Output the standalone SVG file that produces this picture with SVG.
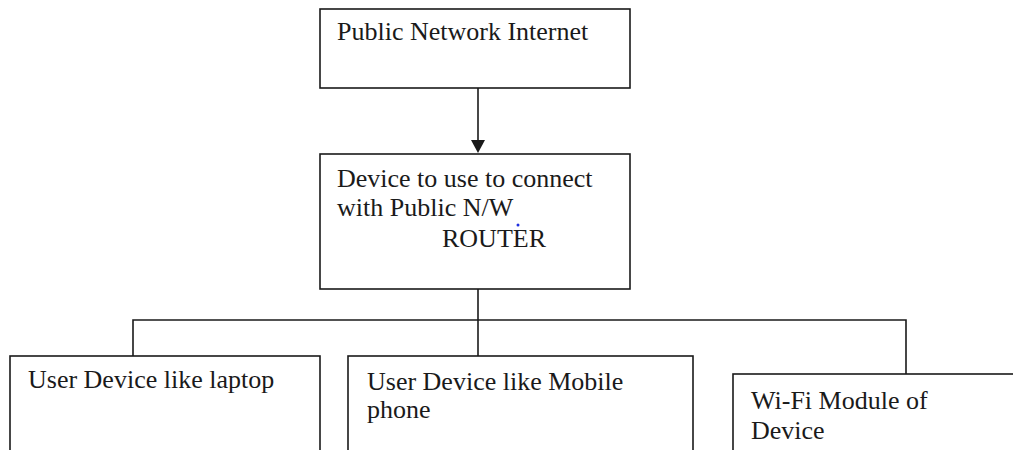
<svg xmlns="http://www.w3.org/2000/svg" width="1013" height="450" viewBox="0 0 1013 450">
  <defs>
    <style>
      .box { fill: #ffffff; stroke: #1a1a1a; stroke-width: 1.6; }
      .wire { fill: none; stroke: #1a1a1a; stroke-width: 1.6; }
      .arrowhead { fill: #1a1a1a; }
      text { font-family: 'Liberation Serif', 'DejaVu Serif', serif; font-size: 26px; fill: #1a1a1a; }
    </style>
  </defs>
  <rect width="1013" height="450" fill="#ffffff"/>

  <!-- connectors -->
  <g id="connectors">
    <line class="wire" x1="478" y1="88" x2="478" y2="140"/>
    <polygon class="arrowhead" points="471,140 485,140 478,153"/>
    <line class="wire" x1="478" y1="289" x2="478" y2="356"/>
    <polyline class="wire" points="133,356 133,320 906,320 906,374"/>
  </g>

  <!-- public network -->
  <g id="internet">
    <rect class="box" x="320" y="9" width="310" height="79"/>
    <text x="337" y="40">Public Network Internet</text>
  </g>

  <!-- router -->
  <g id="router">
    <rect class="box" x="320" y="154" width="310" height="135"/>
    <text x="337" y="187">Device to use to connect</text>
    <text x="337" y="216">with Public N/W</text>
    <text x="442" y="247">ROUTER</text>
    <circle cx="518" cy="225" r="1.5" fill="#1f2fe0"/>
  </g>

  <!-- laptop -->
  <g id="laptop">
    <rect class="box" x="10" y="356" width="310" height="110"/>
    <text x="28" y="388">User Device like laptop</text>
  </g>

  <!-- mobile -->
  <g id="mobile">
    <rect class="box" x="348" y="356" width="345" height="110"/>
    <text x="367" y="390">User Device like Mobile</text>
    <text x="367" y="418">phone</text>
  </g>

  <!-- wifi module -->
  <g id="wifi">
    <rect class="box" x="733" y="374" width="300" height="100"/>
    <text x="751" y="409">Wi-Fi Module of</text>
    <text x="751" y="439">Device</text>
  </g>
</svg>
